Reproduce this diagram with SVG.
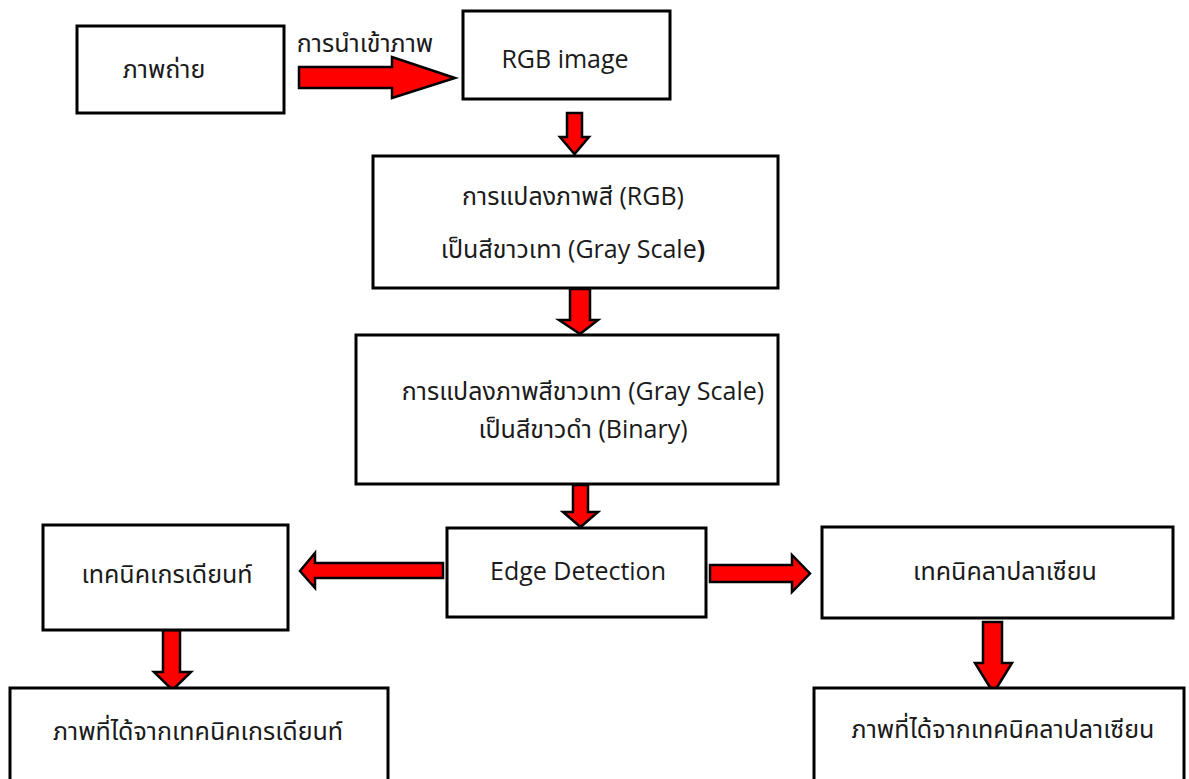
<svg xmlns="http://www.w3.org/2000/svg" width="1189" height="779" viewBox="0 0 1189 779">
<style>
.box{fill:#fff;stroke:#000;stroke-width:3}
.arr{fill:#ff0000;stroke:#000;stroke-width:2.5;stroke-linejoin:miter}
text{font-family:"Open Sans","Noto Sans Thai","Noto Sans",sans-serif;fill:#1a1a1a;font-size:25px;text-anchor:middle}
</style>
<rect width="1189" height="779" fill="#fff"/>
<g id="connectors">
<polygon class="arr" points="299,67 392,67 392,57 455,78 392,98 392,88 299,88"/>
<text x="365" y="52" font-size="28.5" fill="#333">การนำเข้าภาพ</text>
<polygon class="arr" points="567,113 582,113 582,137 589,137 574.5,154 560,137 567,137"/>
<polygon class="arr" points="570,289 590,289 590,320 598,320 580,334 559,320 570,320"/>
<polygon class="arr" points="573,485 588,485 588,512 598,512 580.5,527 563,512 573,512"/>
<polygon class="arr" points="443,563 443,578 315,578 315,588 300,571 315,553 315,563"/>
<polygon class="arr" points="710,565 792,565 792,555 810,573.5 792,592 792,582 710,582"/>
<polygon class="arr" points="163,630 180,630 180,672 191,672 172.5,690 154,672 163,672"/>
<polygon class="arr" points="983,622 1002,622 1002,663 1012,663 993.5,693 975,663 983,663"/>
</g>
<g id="n1"><rect class="box" x="77" y="26" width="207" height="87"/><text x="164" y="78" font-size="32">ภาพถ่าย</text></g>
<g id="n2"><rect class="box" x="463" y="11" width="207" height="88"/><text x="565" y="68" font-size="28">RGB image</text></g>
<g id="n3"><rect class="box" x="373" y="156" width="405" height="132"/><text x="573" y="205">การแปลงภาพสี (RGB)</text><text x="573" y="258">เป็นสีขาวเทา (Gray Scale<tspan font-weight="bold">)</tspan></text></g>
<g id="n4"><rect class="box" x="356" y="335" width="422" height="149"/><text x="583" y="400">การแปลงภาพสีขาวเทา (Gray Scale)</text><text x="583" y="438">เป็นสีขาวดำ (Binary)</text></g>
<g id="n5"><rect class="box" x="447" y="528" width="259" height="89"/><text x="578" y="580" font-size="24">Edge Detection</text></g>
<g id="n6"><rect class="box" x="43" y="525" width="245" height="105"/><text x="167" y="583">เทคนิคเกรเดียนท์</text></g>
<g id="n7"><rect class="box" x="822" y="527" width="351" height="91"/><text x="1005" y="580" font-size="26">เทคนิคลาปลาเซียน</text></g>
<g id="n8"><rect class="box" x="10" y="688" width="378" height="100"/><text x="198" y="740" font-size="25.5">ภาพที่ได้จากเทคนิคเกรเดียนท์</text></g>
<g id="n9"><rect class="box" x="814" y="688" width="370" height="100"/><text x="1003" y="738" font-size="26">ภาพที่ได้จากเทคนิคลาปลาเซียน</text></g>
</svg>
